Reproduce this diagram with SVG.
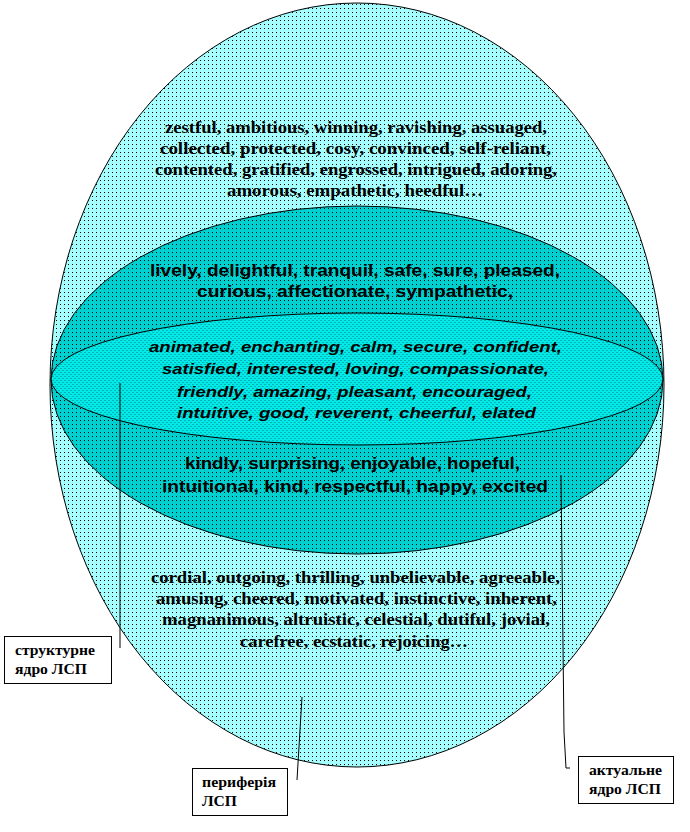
<svg xmlns="http://www.w3.org/2000/svg" width="690" height="832" viewBox="0 0 690 832">
<defs>
<pattern id="pOuter" patternUnits="userSpaceOnUse" width="4" height="4">
<rect width="4" height="4" fill="#A6FFFF"/>
<rect x="0" y="0" width="1" height="1" fill="#000"/>
</pattern>
<pattern id="pMid" patternUnits="userSpaceOnUse" width="4" height="4">
<rect width="4" height="4" fill="#00D0D0"/>
<rect x="0" y="0" width="1" height="1" fill="#000"/>
</pattern>
<pattern id="pIn" patternUnits="userSpaceOnUse" width="4" height="4">
<rect width="4" height="4" fill="#00EAEA"/>
<rect x="0" y="0" width="2" height="1" fill="#00B4B4"/>
<rect x="2" y="2" width="2" height="1" fill="#00B4B4"/>
</pattern>
</defs>
<style>
.shape{stroke:#000;stroke-width:1}
.tr{font-family:"Liberation Serif","Times New Roman",serif;font-weight:bold;font-size:16px;fill:#000}
.ar{font-family:"Liberation Sans",Arial,sans-serif;font-weight:bold;font-size:16px;fill:#000}
.ai{font-family:"Liberation Sans",Arial,sans-serif;font-weight:bold;font-style:italic;font-size:15px;fill:#000}
.lb{font-family:"Liberation Serif","Times New Roman",serif;font-weight:bold;font-size:15px;fill:#000}
.box{fill:#fff;stroke:#000;stroke-width:1}
.conn{stroke:#000;stroke-width:1;fill:none}
</style>
<rect width="690" height="832" fill="#fff"/>
<g id="periphery">
<ellipse class="shape" cx="357" cy="385" rx="307" ry="382" fill="url(#pOuter)"/>
<text class="tr" x="165" y="133" textLength="382" lengthAdjust="spacingAndGlyphs">zestful, ambitious, winning, ravishing, assuaged,</text>
<text class="tr" x="160" y="154" textLength="391" lengthAdjust="spacingAndGlyphs">collected, protected, cosy, convinced,  self-reliant,</text>
<text class="tr" x="155" y="175" textLength="402" lengthAdjust="spacingAndGlyphs">contented, gratified, engrossed, intrigued, adoring,</text>
<text class="tr" x="227" y="196" textLength="256" lengthAdjust="spacingAndGlyphs">amorous,  empathetic, heedful…</text>
<text class="tr" x="151" y="583" textLength="409" lengthAdjust="spacingAndGlyphs">cordial, outgoing, thrilling, unbelievable, agreeable,</text>
<text class="tr" x="156" y="604" textLength="401" lengthAdjust="spacingAndGlyphs">amusing, cheered, motivated, instinctive, inherent,</text>
<text class="tr" x="162" y="625" textLength="388" lengthAdjust="spacingAndGlyphs">magnanimous, altruistic, celestial, dutiful, jovial,</text>
<text class="tr" x="240" y="647" textLength="228" lengthAdjust="spacingAndGlyphs">carefree, ecstatic, rejoicing…</text>
</g>
<g id="structural-core">
<ellipse class="shape" cx="357" cy="380" rx="306" ry="174" fill="url(#pMid)"/>
<text class="ar" x="150" y="276" textLength="410" lengthAdjust="spacingAndGlyphs">lively, delightful, tranquil, safe, sure, pleased,</text>
<text class="ar" x="197" y="297" textLength="316" lengthAdjust="spacingAndGlyphs">curious, affectionate, sympathetic,</text>
<text class="ar" x="185" y="469" textLength="335" lengthAdjust="spacingAndGlyphs">kindly, surprising, enjoyable, hopeful,</text>
<text class="ar" x="162" y="492" textLength="386" lengthAdjust="spacingAndGlyphs">intuitional, kind, respectful, happy, excited</text>
</g>
<g id="actual-core">
<ellipse class="shape" cx="357" cy="379" rx="306" ry="66" fill="url(#pIn)"/>
<text class="ai" x="149" y="352" textLength="413" lengthAdjust="spacingAndGlyphs">animated, enchanting, calm, secure, confident,</text>
<text class="ai" x="162" y="374" textLength="387" lengthAdjust="spacingAndGlyphs">satisfied, interested, loving, compassionate,</text>
<text class="ai" x="177" y="397" textLength="355" lengthAdjust="spacingAndGlyphs">friendly, amazing, pleasant, encouraged,</text>
<text class="ai" x="177" y="418" textLength="359" lengthAdjust="spacingAndGlyphs">intuitive, good, reverent, cheerful, elated</text>
</g>
<g id="connectors">
<line class="conn" x1="120" y1="383" x2="120" y2="648"/>
<line class="conn" x1="302" y1="697" x2="297" y2="780"/>
<polyline class="conn" points="561,475 564,732 566,768 570,768"/>
</g>
<g id="label-structural">
<rect class="box" x="4.5" y="636.5" width="107" height="47"/>
<text class="lb" x="15" y="655" textLength="80" lengthAdjust="spacingAndGlyphs">структурне</text>
<text class="lb" x="15" y="674" textLength="72" lengthAdjust="spacingAndGlyphs">ядро ЛСП</text>
</g>
<g id="label-periphery">
<rect class="box" x="192.5" y="768.5" width="95" height="47"/>
<text class="lb" x="202" y="787" textLength="74" lengthAdjust="spacingAndGlyphs">периферія</text>
<text class="lb" x="202" y="806" textLength="35" lengthAdjust="spacingAndGlyphs">ЛСП</text>
</g>
<g id="label-actual">
<rect class="box" x="578.5" y="756.5" width="95" height="47"/>
<text class="lb" x="589" y="775" textLength="73" lengthAdjust="spacingAndGlyphs">актуальне</text>
<text class="lb" x="589" y="794" textLength="72" lengthAdjust="spacingAndGlyphs">ядро ЛСП</text>
</g>
</svg>
